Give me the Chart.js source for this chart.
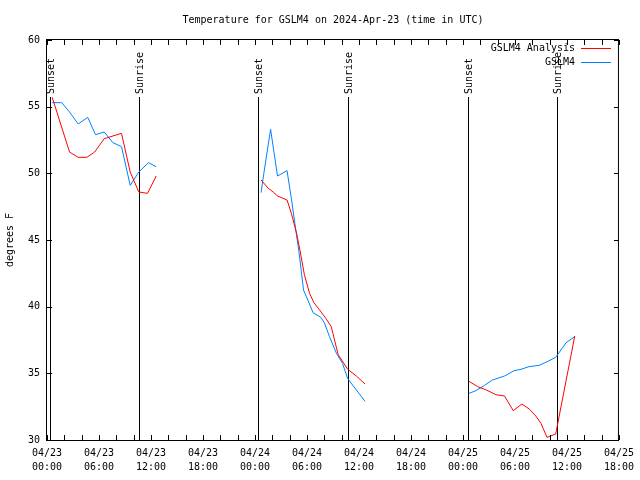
<!DOCTYPE html>
<html>
<head>
<meta charset="utf-8">
<script src="https://cdn.jsdelivr.net/npm/chart.js@4/dist/chart.umd.min.js"></script>
<style>
  body { margin: 0; background: #fff; }
  canvas { display: block; }
</style>
</head>
<body>
<canvas id="chart" width="640" height="480"></canvas>
<script>
// hours since 04/23 00:00 UTC, null = gap in the line
const analysisHours = [0.6, 2.6, 3.6, 4.6, 5.5, 6.6, 8.6, 9.6, 10.6, 11.6, 12.6, null,
    24.7, 25.5, 26.1, 26.6, 27.7, 28.2, 28.8, 29.2, 29.7, 30.3, 30.8, 31.4, 32.2, 32.8, 33.6, 34.7, 35.7, 36.7, null,
    48.7, 49.7, 50.7, 51.8, 52.8, 53.8, 54.8, 55.7, 56.4, 57.0, 57.7, 58.7, 60.9];
const analysisTemps = [55.7, 51.6, 51.2, 51.2, 51.6, 52.6, 53.0, 50.1, 48.6, 48.5, 49.8, null,
    49.5, 48.9, 48.6, 48.3, 48.0, 47.0, 45.5, 44.2, 42.4, 41.0, 40.3, 39.8, 39.1, 38.5, 36.4, 35.3, 34.8, 34.2, null,
    34.4, 34.0, 33.75, 33.4, 33.3, 32.2, 32.7, 32.3, 31.8, 31.25, 30.2, 30.45, 37.8];

const obsHours = [0.6, 1.7, 2.6, 3.6, 4.7, 5.6, 6.6, 7.6, 8.6, 9.6, 10.6, 11.7, 12.6, null,
    24.7, 25.0, 25.8, 26.6, 27.7, 28.2, 28.6, 29.1, 29.6, 30.1, 30.7, 31.6, 32.0, 32.6, 33.4, 34.1, 34.7, 35.7, 36.7, null,
    48.7, 49.5, 50.5, 51.4, 52.8, 53.9, 54.7, 55.6, 56.8, 57.8, 58.7, 59.9, 60.9];
const obsTemps = [55.3, 55.3, 54.6, 53.7, 54.2, 52.9, 53.1, 52.3, 52.0, 49.1, 50.1, 50.8, 50.5, null,
    48.55, 49.9, 53.3, 49.8, 50.2, 48.1, 46.25, 44.0, 41.25, 40.5, 39.55, 39.2, 38.8, 37.75, 36.5, 35.75, 34.6, 33.75, 32.9, null,
    33.5, 33.7, 34.1, 34.5, 34.8, 35.2, 35.3, 35.5, 35.6, 35.9, 36.2, 37.3, 37.75];

const sunHours = [0.3, 10.6, 24.4, 34.75, 48.55, 58.85];
const sunLabels = ['Sunset', 'Sunrise', 'Sunset', 'Sunrise', 'Sunset', 'Sunrise'];

const dayLabels = ['04/23', '04/24', '04/25'];
const seriesNames = ['GSLM4 Analysis', 'GSLM4'];
const seriesColors = ['#ff0000', '#0080ff'];
const chartTitle = 'Temperature for GSLM4 on 2024-Apr-23 (time in UTC)';

const FONT = '10px "DejaVu Sans Mono", monospace';

function toPoints(xs, ys) {
    return xs.map((x, i) => ({ x: x, y: ys[i] }));
}

function pad2(n) {
    return (n < 10 ? '0' : '') + n;
}

// border box, inward ticks, title, sun lines, legend
const gnuplotLook = {
    id: 'gnuplotLook',
    beforeDatasetsDraw(chart) {
        const ctx = chart.ctx;
        const a = chart.chartArea;
        const xs = chart.scales.x;
        ctx.save();
        ctx.strokeStyle = '#000';
        ctx.lineWidth = 1;
        ctx.fillStyle = '#000';
        ctx.font = FONT;
        sunHours.forEach((h, i) => {
            const px = Math.round(xs.getPixelForValue(h)) + 0.5;
            ctx.beginPath();
            ctx.moveTo(px, a.top + 57);
            ctx.lineTo(px, a.bottom);
            ctx.stroke();
            ctx.save();
            ctx.translate(px + 1, a.top + 54);
            ctx.rotate(-Math.PI / 2);
            ctx.textAlign = 'left';
            ctx.textBaseline = 'middle';
            ctx.fillText(sunLabels[i], 0, 0);
            ctx.restore();
        });
        ctx.restore();
    },
    afterDraw(chart) {
        const ctx = chart.ctx;
        const a = chart.chartArea;
        const xs = chart.scales.x;
        const ys = chart.scales.y;
        ctx.save();
        ctx.strokeStyle = '#000';
        ctx.lineWidth = 1;
        ctx.strokeRect(a.left - 0.5, a.top - 0.5, a.right - a.left, a.bottom - a.top + 1);

        ctx.beginPath();
        for (let h = xs.min; h <= xs.max; h += 2) {
            const px = Math.round(xs.getPixelForValue(h)) + 0.5;
            ctx.moveTo(px, a.bottom); ctx.lineTo(px, a.bottom - 5);
            ctx.moveTo(px, a.top); ctx.lineTo(px, a.top + 5);
        }
        for (let v = ys.min; v <= ys.max; v += 5) {
            const py = Math.round(ys.getPixelForValue(v)) + 0.5;
            ctx.moveTo(a.left, py); ctx.lineTo(a.left + 5, py);
            ctx.moveTo(a.right, py); ctx.lineTo(a.right - 5, py);
        }
        ctx.stroke();

        ctx.fillStyle = '#000';
        ctx.font = FONT;
        ctx.textAlign = 'center';
        ctx.textBaseline = 'middle';
        ctx.fillText(chartTitle, (a.left + a.right) / 2, 20);

        // legend
        ctx.textAlign = 'right';
        seriesNames.forEach((name, i) => {
            const y = 48 + i * 14;
            ctx.fillStyle = '#000';
            ctx.fillText(name, 575, y);
            ctx.strokeStyle = seriesColors[i];
            ctx.beginPath();
            ctx.moveTo(581, y + 0.5);
            ctx.lineTo(611, y + 0.5);
            ctx.stroke();
        });
        ctx.restore();
    }
};

new Chart(document.getElementById('chart'), {
    type: 'line',
    data: {
        datasets: [
            {
                label: seriesNames[0],
                data: toPoints(analysisHours, analysisTemps),
                borderColor: seriesColors[0],
                borderWidth: 1,
                pointRadius: 0,
                tension: 0,
                spanGaps: false
            },
            {
                label: seriesNames[1],
                data: toPoints(obsHours, obsTemps),
                borderColor: seriesColors[1],
                borderWidth: 1,
                pointRadius: 0,
                tension: 0,
                spanGaps: false
            }
        ]
    },
    options: {
        responsive: false,
        animation: false,
        devicePixelRatio: 1,
        layout: { padding: { top: 40, right: 18, left: 0, bottom: 0 } },
        plugins: {
            legend: { display: false },
            tooltip: { enabled: false }
        },
        scales: {
            x: {
                type: 'linear',
                min: 0,
                max: 66,
                afterFit: s => { s.height = 40; },
                grid: { display: false, drawTicks: false },
                border: { display: false },
                ticks: {
                    stepSize: 6,
                    autoSkip: false,
                    maxRotation: 0,
                    padding: 6,
                    color: '#000',
                    font: { family: '"DejaVu Sans Mono", monospace', size: 10, lineHeight: 1.4 },
                    callback: v => [dayLabels[Math.floor(v / 24)], pad2(v % 24) + ':00']
                }
            },
            y: {
                min: 30,
                max: 60,
                afterFit: s => { s.width = 47; },
                grid: { display: false, drawTicks: false },
                border: { display: false },
                ticks: {
                    stepSize: 5,
                    padding: 7,
                    color: '#000',
                    font: { family: '"DejaVu Sans Mono", monospace', size: 10 }
                },
                title: {
                    display: true,
                    text: 'degrees F',
                    color: '#000',
                    padding: { top: 4, bottom: 0 },
                    font: { family: '"DejaVu Sans Mono", monospace', size: 10 }
                }
            }
        }
    },
    plugins: [gnuplotLook]
});
</script>
</body>
</html>
